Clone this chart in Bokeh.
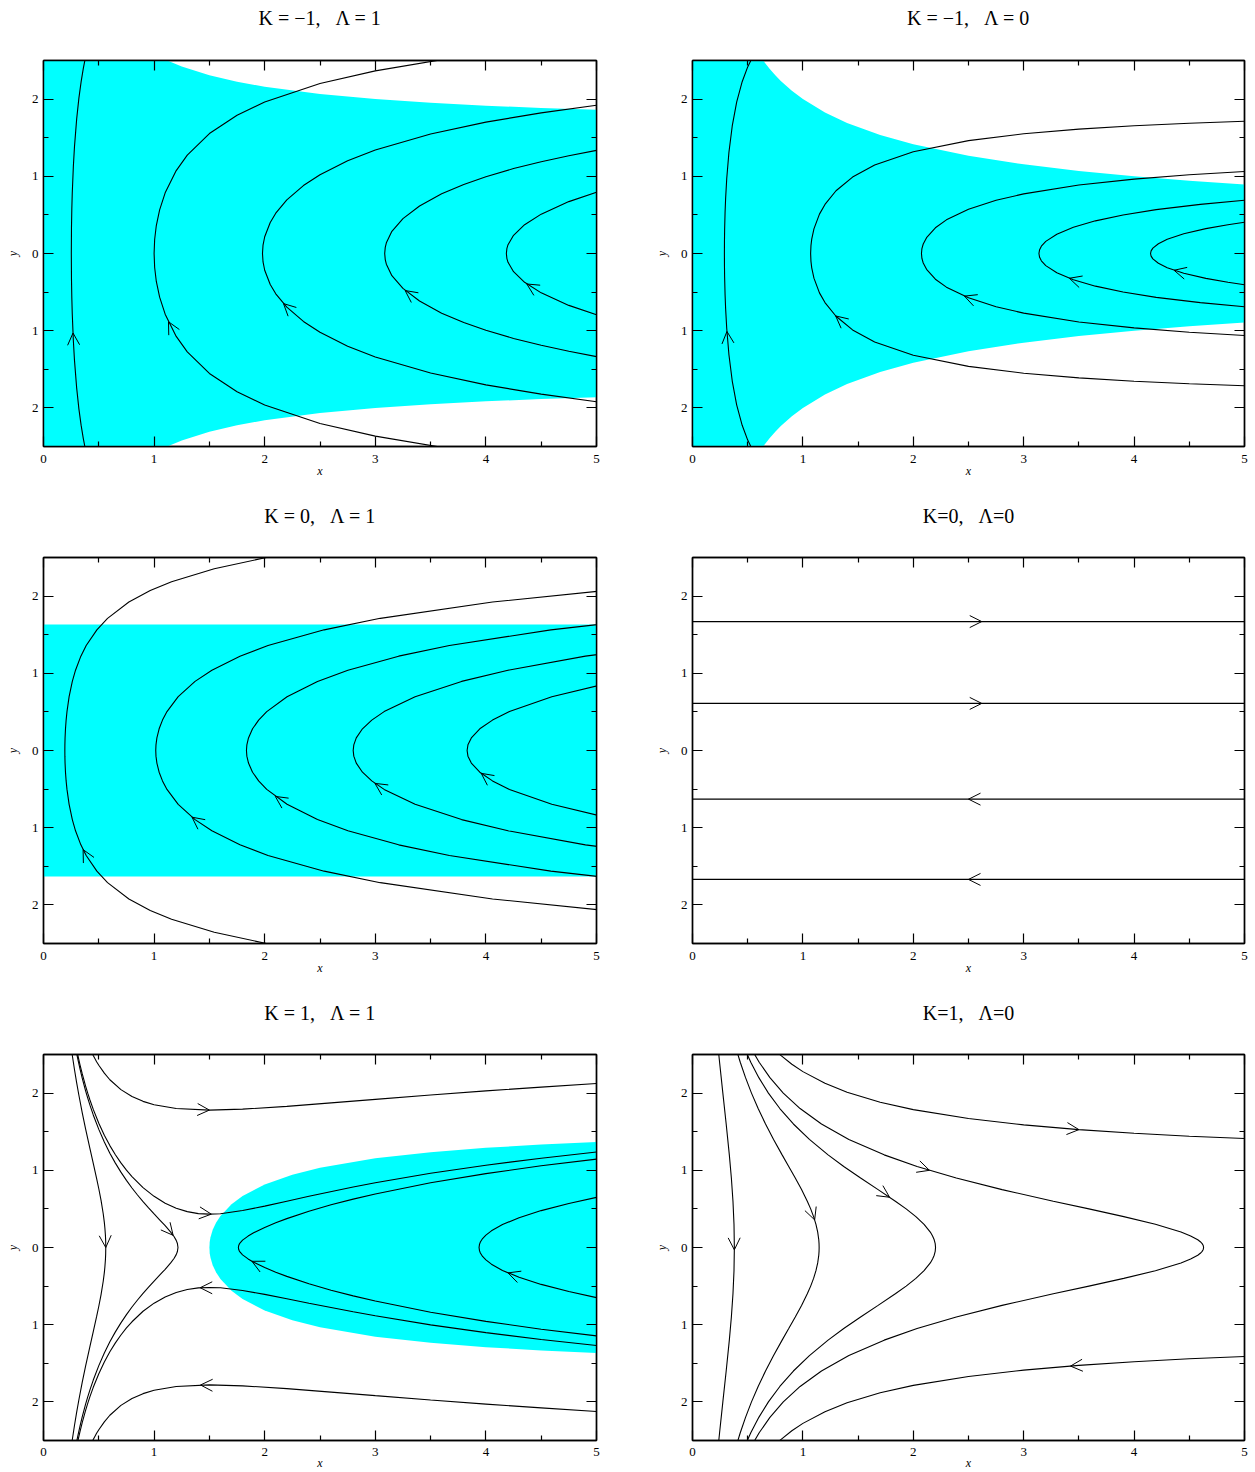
from bokeh.plotting import figure
from bokeh.layouts import column, row
from bokeh.models import Range1d, FixedTicker, LinearAxis, Arrow, OpenHead, ColumnDataSource, Title
from bokeh.embed import file_html
from bokeh.resources import INLINE

FONT = "Liberation Serif"
CYAN = "#00ffff"
NB = "\u00a0"

TITLES = [
    f"K = \u22121,{NB*3}\u039b = 1",
    f"K = \u22121,{NB*3}\u039b = 0",
    f"K = 0,{NB*3}\u039b = 1",
    f"K=0,{NB*3}\u039b=0",
    f"K = 1,{NB*3}\u039b = 1",
    f"K=1,{NB*3}\u039b=0",
]

X_TICKS = [0, 1, 2, 3, 4, 5]
X_MINOR = [0.5, 1.5, 2.5, 3.5, 4.5]
X_TICK_LABELS = ["0", "1", "2", "3", "4", "5"]
Y_TICKS = [-2, -1, 0, 1, 2]
Y_MINOR = [-1.5, -0.5, 0.5, 1.5]
Y_TICK_LABELS = ["2", "1", "0", "1", "2"]

# ---------------- Panel 1 : K=-1, Lambda=1 (half branches, y >= 0) ----------------
P1_A_X = [0.2515, 0.253, 0.256, 0.26, 0.27, 0.28, 0.30, 0.32, 0.34, 0.36, 0.38]
P1_A_Y = [0, 0.333, 0.572, 0.780, 1.131, 1.381, 1.744, 2.012, 2.224, 2.398, 2.545]
P1_B_X = [1.0, 1.005, 1.02, 1.05, 1.1, 1.2, 1.3, 1.5, 1.75, 2.0, 2.5, 3.0, 3.6]
P1_B_Y = [0, 0.182, 0.362, 0.566, 0.786, 1.074, 1.274, 1.554, 1.791, 1.962, 2.201, 2.366, 2.511]
P1_C_X = [1.98, 1.985, 2.0, 2.05, 2.1, 2.2, 2.35, 2.5, 2.75, 3.0, 3.5, 4.0, 4.5, 5.0]
P1_C_Y = [0, 0.109, 0.217, 0.402, 0.522, 0.695, 0.880, 1.021, 1.201, 1.340, 1.548, 1.702, 1.822, 1.921]
P1_D_X = [3.085, 3.09, 3.1, 3.15, 3.25, 3.4, 3.6, 3.8, 4.0, 4.25, 4.5, 4.75, 5.0]
P1_D_Y = [0, 0.079, 0.138, 0.287, 0.452, 0.616, 0.773, 0.894, 0.995, 1.100, 1.189, 1.267, 1.336]
P1_E_X = [4.185, 4.19, 4.2, 4.25, 4.35, 4.5, 4.75, 5.0]
P1_E_Y = [0, 0.066, 0.114, 0.236, 0.373, 0.510, 0.672, 0.794]
P1_SHADE_X = [0, 0.9, 1.0, 1.1, 1.25, 1.5, 1.75, 2.0, 2.5, 3.0, 3.5, 4.0, 4.5, 5.0]
P1_SHADE_Y = [2.7, 2.667, 2.582, 2.511, 2.422, 2.309, 2.225, 2.160, 2.066, 2.0, 1.952, 1.915, 1.886, 1.862]
P1_TIP_X = [0.267, 1.13, 2.17, 3.27, 4.37]
P1_TIP_Y = [-1.03, -0.884, -0.649, -0.48, -0.395]
P1_TAIL_X = [0.275, 1.2, 2.3, 3.4, 4.5]
P1_TAIL_Y = [-1.264, -1.074, -0.825, -0.616, -0.510]

# ---------------- Panel 2 : K=-1, Lambda=0 ----------------
P2_A_X = [0.289, 0.2895, 0.291, 0.295, 0.30, 0.31, 0.33, 0.36, 0.40, 0.45, 0.50, 0.55]
P2_A_Y = [0, 0.155, 0.308, 0.531, 0.712, 0.968, 1.311, 1.652, 1.960, 2.225, 2.417, 2.563]
P2_B_X = [1.07, 1.073, 1.08, 1.1, 1.15, 1.2, 1.3, 1.45, 1.65, 2.0, 2.5, 3.0, 3.5, 4.0, 4.5, 5.0]
P2_B_Y = [0, 0.102, 0.186, 0.319, 0.510, 0.636, 0.813, 0.990, 1.146, 1.318, 1.462, 1.551, 1.611, 1.655, 1.688, 1.714]
P2_C_X = [2.074, 2.078, 2.09, 2.12, 2.2, 2.3, 2.5, 2.75, 3.0, 3.5, 4.0, 4.5, 5.0]
P2_C_Y = [0, 0.064, 0.123, 0.205, 0.333, 0.436, 0.574, 0.689, 0.772, 0.887, 0.964, 1.020, 1.063]
P2_D_X = [3.138, 3.144, 3.16, 3.2, 3.3, 3.45, 3.65, 3.9, 4.2, 4.6, 5.0]
P2_D_Y = [0, 0.049, 0.094, 0.157, 0.250, 0.340, 0.423, 0.499, 0.568, 0.636, 0.689]
P2_E_X = [4.149, 4.154, 4.17, 4.22, 4.3, 4.45, 4.65, 4.85, 5.0]
P2_E_Y = [0, 0.034, 0.070, 0.127, 0.184, 0.255, 0.322, 0.373, 0.405]
P2_SHADE_X = [0, 0.6, 0.65, 0.7, 0.75, 0.8, 0.9, 1.0, 1.2, 1.4, 1.7, 2.0, 2.5, 3.0, 3.5, 4.0, 4.5, 5.0]
P2_SHADE_Y = [2.7, 2.582, 2.481, 2.390, 2.309, 2.236, 2.108, 2.0, 1.826, 1.690, 1.534, 1.414, 1.265, 1.155, 1.069, 1.0, 0.943, 0.894]
P2_TIP_X = [0.312, 1.297, 2.463, 3.414, 4.362]
P2_TIP_Y = [-1.01, -0.809, -0.552, -0.321, -0.217]
P2_TAIL_X = [0.33, 1.45, 2.6, 3.65, 4.65]
P2_TAIL_Y = [-1.311, -0.990, -0.625, -0.423, -0.322]

# ---------------- Panel 3 : K=0, Lambda=1 ----------------
P3_A_X = [0.193, 0.1934, 0.1949, 0.1988, 0.2046, 0.2123, 0.2316, 0.2606, 0.2895, 0.3378, 0.386,
          0.4825, 0.579, 0.772, 0.965, 1.158, 1.544, 2.0265]
P3_A_Y = [0, 0.073, 0.163, 0.281, 0.394, 0.504, 0.697, 0.895, 1.040, 1.222, 1.360,
          1.563, 1.712, 1.923, 2.072, 2.186, 2.355, 2.504]
P3_B_X = [1.015, 1.017, 1.0252, 1.0455, 1.0759, 1.1165, 1.218, 1.3703, 1.5225, 1.7763, 2.03,
          2.5375, 3.045, 4.06, 5.075]
P3_B_Y = [0, 0.073, 0.163, 0.281, 0.394, 0.504, 0.697, 0.895, 1.040, 1.222, 1.360,
          1.563, 1.712, 1.923, 2.072]
P3_C_X = [1.835, 1.8387, 1.8534, 1.8901, 1.9451, 2.0185, 2.202, 2.4773, 2.7525, 3.2113, 3.67, 4.5875, 5.505]
P3_C_Y = [0, 0.073, 0.163, 0.281, 0.394, 0.504, 0.697, 0.895, 1.040, 1.222, 1.360, 1.563, 1.712]
P3_D_X = [2.80, 2.8056, 2.828, 2.884, 2.968, 3.08, 3.36, 3.78, 4.2, 4.9, 5.6]
P3_D_Y = [0, 0.073, 0.163, 0.281, 0.394, 0.504, 0.697, 0.895, 1.040, 1.222, 1.360]
P3_E_X = [3.83, 3.8377, 3.8683, 3.9449, 4.0598, 4.213, 4.596, 5.1705]
P3_E_Y = [0, 0.073, 0.163, 0.281, 0.394, 0.504, 0.697, 0.895]
P3_SHADE_X = [0, 5]
P3_SHADE_Y = [1.633, 1.633]
P3_TIP_X = [0.358, 1.343, 2.096, 2.997, 3.958]
P3_TIP_Y = [-1.284, -0.864, -0.595, -0.426, -0.296]
P3_TAIL_X = [0.386, 1.4, 2.202, 3.08, 4.0]
P3_TAIL_Y = [-1.360, -0.926, -0.697, -0.504, -0.340]

# ---------------- Panel 4 : K=0, Lambda=0 ----------------
P4_X = [0, 5]
P4_LEVELS = [1.67, 0.61, -0.63, -1.67]
P4_TIP_X = [2.62, 2.62, 2.50, 2.50]
P4_TAIL_X = [2.40, 2.40, 2.72, 2.72]

# ---------------- Panel 5 : K=1, Lambda=1 ----------------
P5_TOP_X = [0.44, 0.45, 0.48, 0.50, 0.55, 0.60, 0.70, 0.80, 0.90, 1.00, 1.20, 1.50, 1.80, 2.20,
            2.60, 3.00, 3.50, 4.00, 4.50, 5.00]
P5_TOP_Y = [2.514, 2.486, 2.407, 2.361, 2.258, 2.173, 2.045, 1.956, 1.893, 1.849, 1.800, 1.780,
            1.792, 1.828, 1.873, 1.919, 1.976, 2.029, 2.078, 2.124]
P5_MID_X = [0.30, 0.31, 0.32, 0.33, 0.35, 0.38, 0.40, 0.42, 0.45, 0.50, 0.55, 0.60, 0.65, 0.70,
            0.75, 0.80, 0.90, 1.00, 1.10, 1.20, 1.30, 1.40, 1.50, 1.60, 1.80, 2.00, 2.20, 2.40,
            2.80, 3.00, 3.50, 4.00, 4.50, 5.00]
P5_UP_Y = [2.562, 2.494, 2.429, 2.367, 2.251, 2.094, 1.999, 1.911, 1.789, 1.610, 1.455, 1.320,
           1.202, 1.096, 1.002, 0.919, 0.776, 0.663, 0.574, 0.509, 0.465, 0.439, 0.432, 0.438,
           0.479, 0.536, 0.600, 0.663, 0.783, 0.838, 0.961, 1.066, 1.157, 1.237]
P5_LOW_Y = [-2.577, -2.510, -2.446, -2.384, -2.269, -2.113, -2.019, -1.932, -1.811, -1.635,
            -1.483, -1.351, -1.235, -1.133, -1.042, -0.962, -0.826, -0.721, -0.641, -0.583,
            -0.545, -0.523, -0.518, -0.522, -0.557, -0.607, -0.664, -0.722, -0.833, -0.885,
            -1.002, -1.103, -1.192, -1.270]
P5_L_X = [0.563, 0.562, 0.56, 0.555, 0.55, 0.54, 0.52, 0.50, 0.48, 0.45, 0.42, 0.40, 0.38, 0.35,
          0.32, 0.30, 0.28, 0.26, 0.25]
P5_L_Y = [0, 0.089, 0.156, 0.253, 0.326, 0.437, 0.613, 0.761, 0.896, 1.089, 1.280, 1.409, 1.540,
          1.748, 1.972, 2.133, 2.306, 2.494, 2.594]
P5_M_X = [1.216, 1.21, 1.20, 1.18, 1.15, 1.10, 1.05, 1.00, 0.95, 0.90, 0.85, 0.80, 0.75, 0.70,
          0.65, 0.60, 0.55, 0.50, 0.45, 0.42, 0.40, 0.38, 0.35, 0.33, 0.31, 0.30, 0.29]
P5_M_Y = [0, 0.056, 0.092, 0.142, 0.200, 0.282, 0.359, 0.435, 0.513, 0.593, 0.680, 0.771, 0.869,
          0.976, 1.093, 1.222, 1.367, 1.530, 1.717, 1.844, 1.935, 2.033, 2.195, 2.314, 2.443,
          2.512, 2.585]
P5_R_X = [1.762, 1.765, 1.77, 1.78, 1.80, 1.85, 1.90, 2.00, 2.10, 2.20, 2.40, 2.60, 2.80, 3.00,
          3.50, 4.00, 4.50, 5.00]
P5_R_Y = [0, 0.026, 0.043, 0.064, 0.095, 0.148, 0.190, 0.260, 0.320, 0.374, 0.470, 0.553, 0.627,
          0.694, 0.838, 0.957, 1.058, 1.145]
P5_E_X = [3.938, 3.942, 3.95, 3.97, 4.00, 4.05, 4.15, 4.30, 4.50, 4.75, 5.00]
P5_E_Y = [0, 0.041, 0.071, 0.116, 0.161, 0.216, 0.297, 0.386, 0.478, 0.571, 0.649]
P5_SHADE_X = [1.5, 1.503, 1.51, 1.53, 1.56, 1.6, 1.7, 1.8, 2.0, 2.25, 2.5, 3.0, 3.5, 4.0, 4.5, 5.0]
P5_SHADE_Y = [0, 0.073, 0.133, 0.229, 0.320, 0.408, 0.560, 0.667, 0.816, 0.943, 1.033, 1.155,
              1.234, 1.291, 1.333, 1.366]
P5_TIP_X = [1.5, 1.42, 1.517, 1.417, 0.563, 1.172, 1.885, 4.2]
P5_TIP_Y = [1.78, -1.781, 0.432, -0.521, 0.0, 0.158, -0.179, -0.329]
P5_TAIL_X = [1.2, 1.8, 1.3, 1.6, 0.555, 1.10, 2.0, 4.5]
P5_TAIL_Y = [1.80, -1.792, 0.465, -0.522, 0.253, 0.282, -0.260, -0.478]

# ---------------- Panel 6 : K=1, Lambda=0 ----------------
P6_L_X = [0.3791, 0.3759, 0.3666, 0.3521, 0.3336, 0.3051, 0.2749, 0.2453, 0.2346]
P6_L_Y = [0, 0.3, 0.6, 0.9, 1.2, 1.6, 2.0, 2.4, 2.55]
P6_B_X = [1.1471, 1.1463, 1.1438, 1.1341, 1.1183, 1.0968, 1.0704, 1.0398, 0.9878, 0.9309, 0.8716,
          0.8118, 0.7343, 0.6615, 0.5946, 0.5343, 0.4804, 0.4326, 0.4004]
P6_B_Y = [0, 0.05, 0.1, 0.2, 0.3, 0.4, 0.5, 0.6, 0.75, 0.9, 1.05, 1.2, 1.4, 1.6, 1.8, 2.0, 2.2,
          2.4, 2.55]
P6_C_X = [2.2014, 2.1984, 2.1894, 2.1745, 2.1540, 2.0975, 2.0233, 1.9352, 1.8374, 1.6810, 1.5226,
          1.3701, 1.2281, 1.0590, 0.9139, 0.7910, 0.6876, 0.6009, 0.5279, 0.4808]
P6_C_Y = [0, 0.05, 0.1, 0.15, 0.2, 0.3, 0.4, 0.5, 0.6, 0.75, 0.9, 1.05, 1.2, 1.4, 1.6, 1.8, 2.0,
          2.2, 2.4, 2.55]
P6_D_X = [4.6296, 4.6263, 4.6163, 4.5997, 4.5767, 4.5121, 4.4248, 4.1929, 3.9063, 3.5907, 3.2680,
          2.8041, 2.3895, 2.0341, 1.7361, 1.4164, 1.1682, 0.9747, 0.8224, 0.7013, 0.6039, 0.5430]
P6_D_Y = [0, 0.025, 0.05, 0.075, 0.1, 0.15, 0.2, 0.3, 0.4, 0.5, 0.6, 0.75, 0.9, 1.05, 1.2, 1.4,
          1.6, 1.8, 2.0, 2.2, 2.4, 2.55]
P6_TOP_X = [0.76, 0.8, 0.9, 1.0, 1.2, 1.4, 1.7, 2.0, 2.5, 3.0, 3.5, 4.0, 4.5, 5.0]
P6_TOP_Y = [2.540, 2.488, 2.374, 2.278, 2.127, 2.012, 1.882, 1.786, 1.670, 1.588, 1.527, 1.480,
            1.442, 1.411]
P6_TIP_X = [3.5, 3.424, 2.146, 1.785, 1.1065, 0.379]
P6_TIP_Y = [1.527, -1.536, 1.0, 0.651, 0.358, -0.03]
P6_TAIL_X = [3.0, 4.0, 1.9, 1.6, 1.0704, 0.3759]
P6_TAIL_Y = [1.588, -1.480, 1.114, 0.826, 0.5, 0.3]


def mirrored(xs, ys):
    """Join an upper half-branch (starting on y=0) with its mirror image below y=0."""
    return list(reversed(xs)) + list(xs[1:]), [-v for v in reversed(ys)] + list(ys[1:])


def negated(ys):
    return [-v for v in ys]


PANELS = [
    dict(title=TITLES[0], shade=(P1_SHADE_X, P1_SHADE_Y),
         closed=[(P1_A_X, P1_A_Y), (P1_B_X, P1_B_Y), (P1_C_X, P1_C_Y), (P1_D_X, P1_D_Y), (P1_E_X, P1_E_Y)],
         open=[], arrows=(P1_TIP_X, P1_TIP_Y, P1_TAIL_X, P1_TAIL_Y)),
    dict(title=TITLES[1], shade=(P2_SHADE_X, P2_SHADE_Y),
         closed=[(P2_A_X, P2_A_Y), (P2_B_X, P2_B_Y), (P2_C_X, P2_C_Y), (P2_D_X, P2_D_Y), (P2_E_X, P2_E_Y)],
         open=[], arrows=(P2_TIP_X, P2_TIP_Y, P2_TAIL_X, P2_TAIL_Y)),
    dict(title=TITLES[2], shade=(P3_SHADE_X, P3_SHADE_Y),
         closed=[(P3_A_X, P3_A_Y), (P3_B_X, P3_B_Y), (P3_C_X, P3_C_Y), (P3_D_X, P3_D_Y), (P3_E_X, P3_E_Y)],
         open=[], arrows=(P3_TIP_X, P3_TIP_Y, P3_TAIL_X, P3_TAIL_Y)),
    dict(title=TITLES[3], shade=None, closed=[],
         open=[(P4_X, [lv, lv]) for lv in P4_LEVELS],
         arrows=(P4_TIP_X, P4_LEVELS, P4_TAIL_X, P4_LEVELS)),
    dict(title=TITLES[4], shade=(P5_SHADE_X, P5_SHADE_Y),
         closed=[(P5_L_X, P5_L_Y), (P5_M_X, P5_M_Y), (P5_R_X, P5_R_Y), (P5_E_X, P5_E_Y)],
         open=[(P5_TOP_X, P5_TOP_Y), (P5_TOP_X, negated(P5_TOP_Y)),
               (P5_MID_X, P5_UP_Y), (P5_MID_X, P5_LOW_Y)],
         arrows=(P5_TIP_X, P5_TIP_Y, P5_TAIL_X, P5_TAIL_Y)),
    dict(title=TITLES[5], shade=None,
         closed=[(P6_L_X, P6_L_Y), (P6_B_X, P6_B_Y), (P6_C_X, P6_C_Y), (P6_D_X, P6_D_Y)],
         open=[(P6_TOP_X, P6_TOP_Y), (P6_TOP_X, negated(P6_TOP_Y))],
         arrows=(P6_TIP_X, P6_TIP_Y, P6_TAIL_X, P6_TAIL_Y)),
]

ROW_HEIGHTS = [497, 497, 478]
ROW_BOTTOM = [51, 51, 32]
ROW_LABEL_STANDOFF = [8, 8, 7]
ROW_AXLABEL_STANDOFF = [-2, -2, -3]
COL_WIDTHS = [649, 605]
COL_RIGHT = [53, 10]
BORDER_LEFT = 43
BORDER_TOP = 60
TITLE_GAP = [28, 27, 27]
TITLE_STANDOFF = 8


def style_axis(ax, ticks, minor, labels, show, standoff=5):
    ax.ticker = FixedTicker(ticks=ticks, minor_ticks=minor)
    ax.major_tick_in = 10
    ax.major_tick_out = 0
    ax.minor_tick_in = 5
    ax.minor_tick_out = 0
    ax.major_tick_line_color = "black"
    ax.minor_tick_line_color = "black"
    ax.major_tick_line_width = 1.2
    ax.minor_tick_line_width = 1.2
    ax.axis_line_color = "black"
    ax.axis_line_width = 1.4
    if show:
        ax.major_label_overrides = {t: s for t, s in zip(ticks, labels)}
        ax.major_label_text_font = FONT
        ax.major_label_text_font_size = "13px"
        ax.major_label_text_color = "black"
        ax.major_label_standoff = standoff
    else:
        ax.major_label_text_font_size = "0px"
        ax.major_label_text_color = None
        ax.major_label_text_alpha = 0
        ax.major_label_standoff = 0


def make_panel(i, cfg):
    r, c = divmod(i, 2)
    p = figure(width=COL_WIDTHS[c], height=ROW_HEIGHTS[r],
               x_range=Range1d(0, 5), y_range=Range1d(-2.5, 2.5),
               output_backend="svg", toolbar_location=None,
               min_border_left=BORDER_LEFT, min_border_right=COL_RIGHT[c],
               min_border_top=BORDER_TOP, min_border_bottom=ROW_BOTTOM[r])
    p.title = None
    p.grid.visible = False
    p.outline_line_color = "black"
    p.outline_line_width = 1.4
    p.background_fill_color = "white"
    p.border_fill_color = "white"

    if cfg["shade"] is not None:
        sx, sy = cfg["shade"]
        p.varea(x=sx, y1=negated(sy), y2=sy, fill_color=CYAN, fill_alpha=1.0)

    for xs, ys in cfg["closed"]:
        fx, fy = mirrored(xs, ys)
        p.line(fx, fy, line_color="black", line_width=1.1)
    for xs, ys in cfg["open"]:
        p.line(xs, ys, line_color="black", line_width=1.1)

    tx, ty, bx, by = cfg["arrows"]
    src = ColumnDataSource(dict(x0=list(bx), y0=list(by), x1=list(tx), y1=list(ty)))
    p.add_layout(Arrow(end=OpenHead(size=12, line_color="black", line_width=1.0),
                       x_start="x0", y_start="y0", x_end="x1", y_end="y1",
                       source=src, line_alpha=0.0))

    xb = p.xaxis[0]
    yl = p.yaxis[0]
    style_axis(xb, X_TICKS, X_MINOR, X_TICK_LABELS, True, ROW_LABEL_STANDOFF[r])
    style_axis(yl, Y_TICKS, Y_MINOR, Y_TICK_LABELS, True, 5)
    xb.axis_label = "x"
    yl.axis_label = "y"
    for ax, st in ((xb, ROW_AXLABEL_STANDOFF[r]), (yl, 9)):
        ax.axis_label_text_font = FONT
        ax.axis_label_text_font_style = "italic"
        ax.axis_label_text_font_size = "12px"
        ax.axis_label_text_color = "black"
        ax.axis_label_standoff = st

    # inward ticks on the top and right edges of the frame
    xa = LinearAxis()
    style_axis(xa, X_TICKS, X_MINOR, X_TICK_LABELS, False)
    p.add_layout(xa, "above")
    yr = LinearAxis()
    style_axis(yr, Y_TICKS, Y_MINOR, Y_TICK_LABELS, False)
    p.add_layout(yr, "right")

    # invisible spacer between the frame and the title
    sp = LinearAxis()
    sp.ticker = FixedTicker(ticks=[2.5], minor_ticks=[])
    sp.axis_line_color = None
    sp.major_tick_line_color = None
    sp.minor_tick_line_color = None
    sp.major_tick_in = 0
    sp.major_tick_out = TITLE_GAP[r]
    sp.minor_tick_in = 0
    sp.minor_tick_out = 0
    sp.major_label_text_font_size = "0px"
    sp.major_label_text_color = None
    sp.major_label_text_alpha = 0
    sp.major_label_standoff = 0
    p.add_layout(sp, "above")

    t = Title(text=cfg["title"], align="center", text_font=FONT, text_font_size="20px",
              text_font_style="normal", text_color="black", standoff=TITLE_STANDOFF)
    p.add_layout(t, "above")
    return p


figs = [make_panel(i, cfg) for i, cfg in enumerate(PANELS)]
layout = column(row(figs[0], figs[1]), row(figs[2], figs[3]), row(figs[4], figs[5]))

open("out.html", "w").write(file_html(layout, INLINE))
